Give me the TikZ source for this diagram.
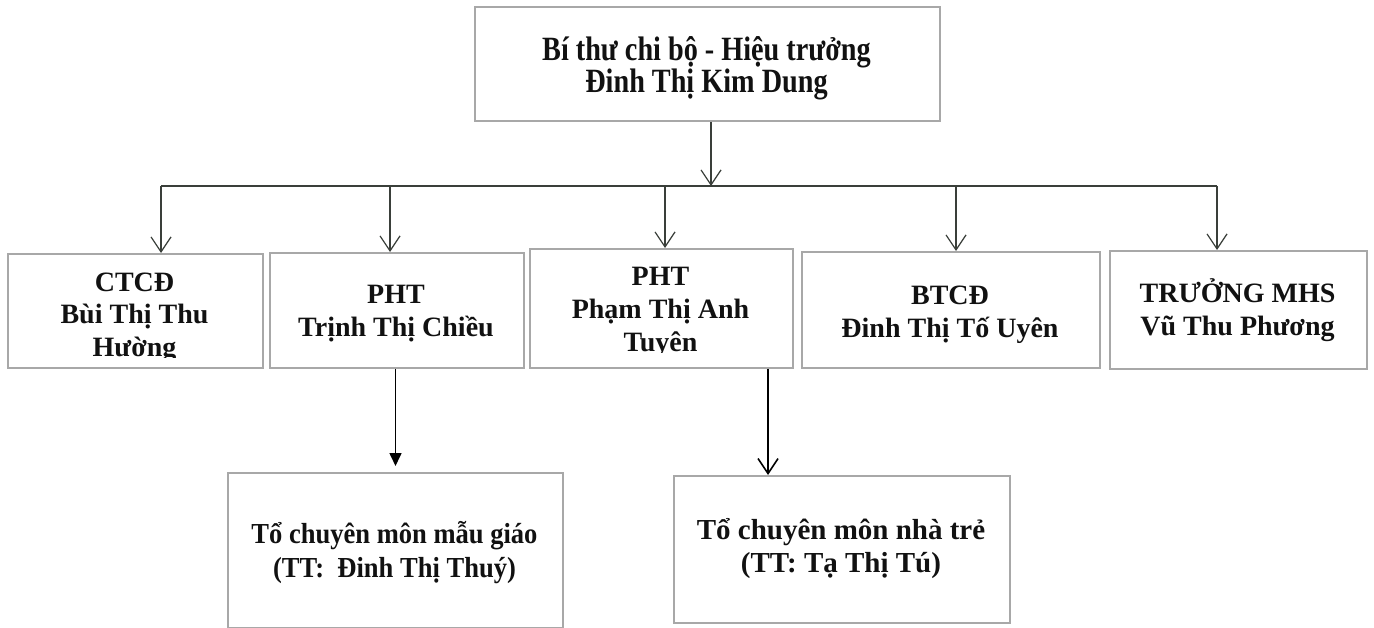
\documentclass[tikz,border=0pt]{standalone}
\usepackage{fontspec}
\setmainfont{Liberation Serif}
\newfontfamily\topfont[FakeStretch=0.83]{Liberation Serif}
\newfontfamily\narrowfont[FakeStretch=0.915]{Liberation Serif}
\usetikzlibrary{arrows.meta}
\definecolor{boxgray}{HTML}{A8A8A8}
\definecolor{linegray}{HTML}{3A3F3A}
\definecolor{inkblack}{HTML}{111111}
\begin{document}
\begin{tikzpicture}[x=1pt,y=-1pt,
  box/.style={draw=boxgray, line width=2pt, inner sep=0pt, anchor=north west, fill=white},
  basetext/.style={align=center, anchor=base, inner sep=0pt, text=inkblack},
  toptext/.style={basetext, font=\topfont\bfseries\fontsize{34}{28}\selectfont},
  midtext/.style={basetext, font=\bfseries\fontsize{28}{33}\selectfont},
  bottext/.style={basetext, font=\bfseries\fontsize{29}{33}\selectfont},
  narrowtext/.style={basetext, font=\narrowfont\bfseries\fontsize{29}{34}\selectfont},
  link/.style={draw=linegray, line width=1.2pt},
  darklink/.style={draw=black, line width=1.6pt},
  vee/.style={-{Straight Barb[length=15pt,width=20pt]}},
  tri/.style={-{Triangle[length=13pt,width=12pt]}}
]
\fill[white] (0,0) rectangle (1374,628);
\useasboundingbox (0,0) rectangle (1374,628);

% boxes
\node[box, minimum width=465pt, minimum height=114pt] (top) at (474,6) {};
\node[box, minimum width=255pt, minimum height=114pt] (b1) at (7,253) {};
\node[box, minimum width=254pt, minimum height=115pt] (b2) at (269,252) {};
\node[box, minimum width=263pt, minimum height=119pt] (b3) at (529,248) {};
\node[box, minimum width=298pt, minimum height=116pt] (b4) at (801,251) {};
\node[box, minimum width=257pt, minimum height=118pt] (b5) at (1109,250) {};
\node[box, minimum width=335pt, minimum height=155pt] (b6) at (227,472) {};
\node[box, minimum width=336pt, minimum height=147pt] (b7) at (673,475) {};

% texts (anchor = baseline of last line)
\node[toptext] (ttop) at (706.5,93) {Bí thư chi bộ - Hiệu trưởng\\Đinh Thị Kim Dung};
\begin{scope}
  \clip (b1.north west) rectangle (b1.east |- 0,358);
  \node[midtext] (t1) at (134.5,357) {CTCĐ\\Bùi Thị Thu\\Hường};
\end{scope}
\node[midtext] (t2) at (396,337) {PHT\\Trịnh Thị Chiều};
\begin{scope}
  \clip (b3.north west) rectangle (b3.east |- 0,353);
  \node[midtext] (t3) at (660.5,352) {PHT\\Phạm Thị Anh\\Tuyên};
\end{scope}
\node[midtext] (t4) at (950,338) {BTCĐ\\Đinh Thị Tố Uyên};
\node[midtext] (t5) at (1237.5,336) {TRƯỞNG MHS\\Vũ Thu Phương};
\node[narrowtext] (t6) at (394.5,577) {Tổ chuyên môn mẫu giáo\\(TT:\ \ Đinh Thị Thuý)};
\node[bottext] (t7) at (841,572) {Tổ chuyên môn nhà trẻ\\(TT: Tạ Thị Tú)};

% connectors
\coordinate (bus) at (711,186);
\coordinate (j1) at (161,186);
\coordinate (j2) at (390,186);
\coordinate (j3) at (665,186);
\coordinate (j4) at (956,186);
\coordinate (j5) at (1217,186);
\draw[link, vee] (bus |- top.south) -- (bus);
\draw[link] (j1) -- (j5);
\draw[link, vee] (j1) -- (j1 |- b1.north);
\draw[link, vee] (j2) -- (j2 |- b2.north);
\draw[link, vee] (j3) -- (j3 |- b3.north);
\draw[link, vee] (j4) -- (j4 |- b4.north);
\draw[link, vee] (j5) -- (j5 |- b5.north);

\coordinate (d3) at (768,420);
\draw[darklink, tri] (b2.south -| b6.north) -- ([yshift=6pt]b6.north);
\draw[darklink, vee] (d3 |- b3.south) -- (d3 |- b7.north);
\end{tikzpicture}
\end{document}
